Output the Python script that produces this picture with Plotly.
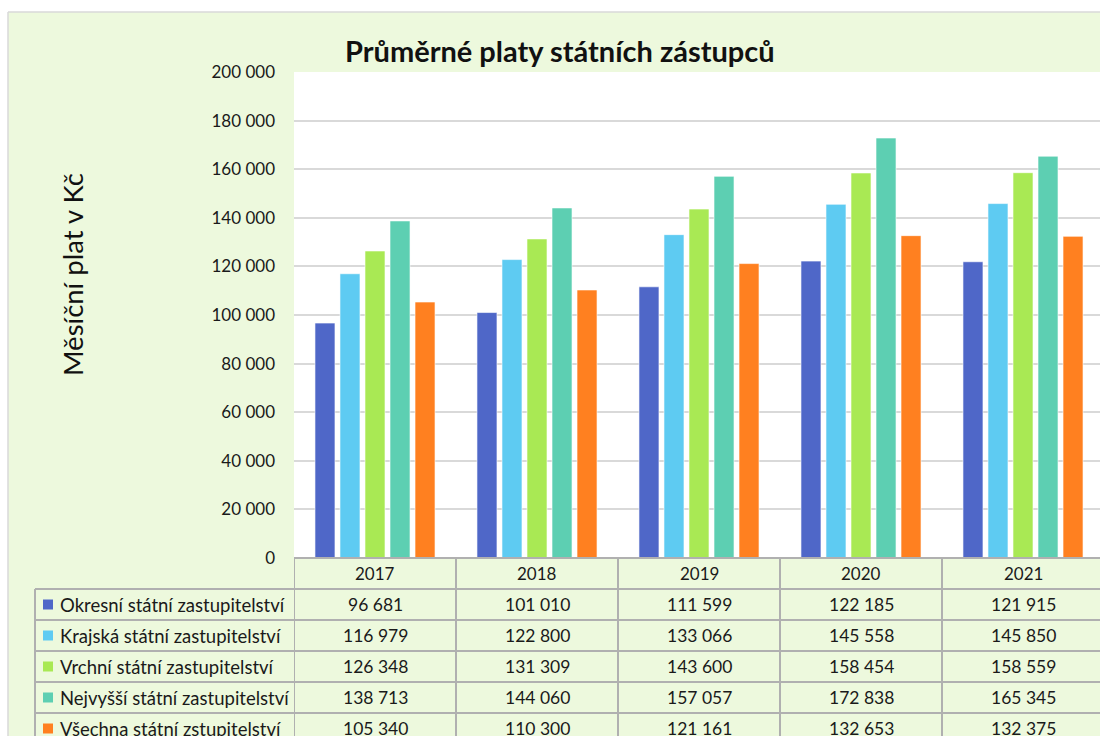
import plotly.graph_objects as go

years = ["2017", "2018", "2019", "2020", "2021"]
series_names = [
    "Okresní státní zastupitelství",
    "Krajská státní zastupitelství",
    "Vrchní státní zastupitelství",
    "Nejvyšší státní zastupitelství",
    "Všechna státní zstupitelství",
]
okresni = [96681, 101010, 111599, 122185, 121915]
krajska = [116979, 122800, 133066, 145558, 145850]
vrchni = [126348, 131309, 143600, 158454, 158559]
nejvyssi = [138713, 144060, 157057, 172838, 165345]
vsechna = [105340, 110300, 121161, 132653, 132375]
values = [okresni, krajska, vrchni, nejvyssi, vsechna]
colors = ["#4f67c8", "#5ecbf2", "#a9e954", "#5dcfb2", "#ff8020"]
ytick_vals = [0, 20000, 40000, 60000, 80000, 100000, 120000, 140000, 160000, 180000, 200000]

W, H = 1100, 736
L, R, T, B = 294, 1100, 72, 558
GREEN = "#edf9dd"
GRID = "#b0b0b0"
FONT = "Lato"


def px(x):
    return (x - L) / (R - L)


def py(y):
    return (B - y) / (B - T)


def fmt(v):
    return f"{v:,}".replace(",", " ")


fig = go.Figure()
for name, vals, col in zip(series_names, values, colors):
    fig.add_trace(go.Bar(
        x=list(range(len(years))), y=vals, name=name,
        marker=dict(color=col, line=dict(color="rgba(255,255,255,0.6)", width=1)),
    ))

shapes = []
annotations = []

# outer white margins and border
shapes.append(dict(type="rect", xref="paper", yref="paper", x0=px(-5), x1=px(8), y0=py(H + 5), y1=py(-5),
                   fillcolor="white", line=dict(width=0), layer="above"))
shapes.append(dict(type="rect", xref="paper", yref="paper", x0=px(-5), x1=px(W + 5), y0=py(12), y1=py(-5),
                   fillcolor="white", line=dict(width=0), layer="above"))
shapes.append(dict(type="line", xref="paper", yref="paper", x0=px(8), x1=px(W + 5), y0=py(12), y1=py(12),
                   line=dict(color="#d9d9d9", width=1.5)))
shapes.append(dict(type="line", xref="paper", yref="paper", x0=px(8), x1=px(8), y0=py(12), y1=py(H + 5),
                   line=dict(color="#d9d9d9", width=1.5)))

# data table
row_h = 31
header_top = B
row_tops = [B + row_h * (i + 1) for i in range(len(series_names))]
legend_left = 35
shapes.append(dict(type="line", xref="paper", yref="paper", x0=0, x1=px(W + 10), y0=py(header_top), y1=py(header_top),
                   line=dict(color=GRID, width=2)))
for yt in row_tops:
    shapes.append(dict(type="line", xref="paper", yref="paper", x0=px(legend_left), x1=px(W + 10), y0=py(yt), y1=py(yt),
                       line=dict(color=GRID, width=2)))
for i in range(len(years) + 1):
    shapes.append(dict(type="line", xref="x", yref="paper", x0=i - 0.5, x1=i - 0.5, y0=py(header_top), y1=py(H + 10),
                       line=dict(color=GRID, width=2)))
shapes.append(dict(type="line", xref="paper", yref="paper", x0=px(legend_left), x1=px(legend_left), y0=py(row_tops[0]), y1=py(H + 10),
                   line=dict(color=GRID, width=2)))

for i, y in enumerate(years):
    annotations.append(dict(xref="x", yref="paper", x=i, y=py(header_top + row_h / 2), text=y, showarrow=False,
                            font=dict(family=FONT, size=17, color="#1a1a1a"), xanchor="center", yanchor="middle"))

for r, (name, vals, col) in enumerate(zip(series_names, values, colors)):
    yc = row_tops[r] + row_h / 2
    shapes.append(dict(type="rect", xref="paper", yref="paper", x0=px(43), x1=px(53), y0=py(yc + 5), y1=py(yc - 5),
                       fillcolor=col, line=dict(width=0)))
    annotations.append(dict(xref="paper", yref="paper", x=px(58), y=py(yc), text=name, showarrow=False,
                            font=dict(family=FONT, size=18.5, color="#1a1a1a"), xanchor="left", yanchor="middle"))
    for i, v in enumerate(vals):
        annotations.append(dict(xref="x", yref="paper", x=i, y=py(yc), text=fmt(v), showarrow=False,
                                font=dict(family=FONT, size=17.5, color="#1a1a1a"), xanchor="center", yanchor="middle"))

annotations.append(dict(xref="paper", yref="paper", x=px(560), y=py(50), text="<b>Průměrné platy státních zástupců</b>",
                        showarrow=False, font=dict(family=FONT, size=29, color="#111111"), xanchor="center", yanchor="middle"))
annotations.append(dict(xref="paper", yref="paper", x=px(72), y=py(275), text="Měsíční plat v Kč", textangle=-90,
                        showarrow=False, font=dict(family=FONT, size=27.5, color="#111111"), xanchor="center", yanchor="middle"))

fig.update_layout(
    width=W, height=H,
    margin=dict(l=L, r=W - R, t=T, b=H - B, pad=0),
    paper_bgcolor=GREEN, plot_bgcolor="white",
    barmode="group", bargap=0.228, bargroupgap=0.2,
    showlegend=False,
    separators=", ",
    font=dict(family=FONT, size=17, color="#1a1a1a"),
    shapes=shapes, annotations=annotations,
    xaxis=dict(range=[-0.5, (R - L) / 162 - 0.5], showticklabels=False, showgrid=False, zeroline=False,
               fixedrange=True),
    yaxis=dict(range=[0, 200000], tickvals=ytick_vals, tickformat=",d", showgrid=True, gridcolor="#d9d9d9",
               gridwidth=1.5, zeroline=False, ticks="", ticklabelstandoff=18,
               tickfont=dict(family=FONT, size=17, color="#1a1a1a"), fixedrange=True),
)

fig.write_html("out.html", config={"displayModeBar": False},
               post_script="document.body.style.margin='0';document.body.style.overflow='hidden';")
